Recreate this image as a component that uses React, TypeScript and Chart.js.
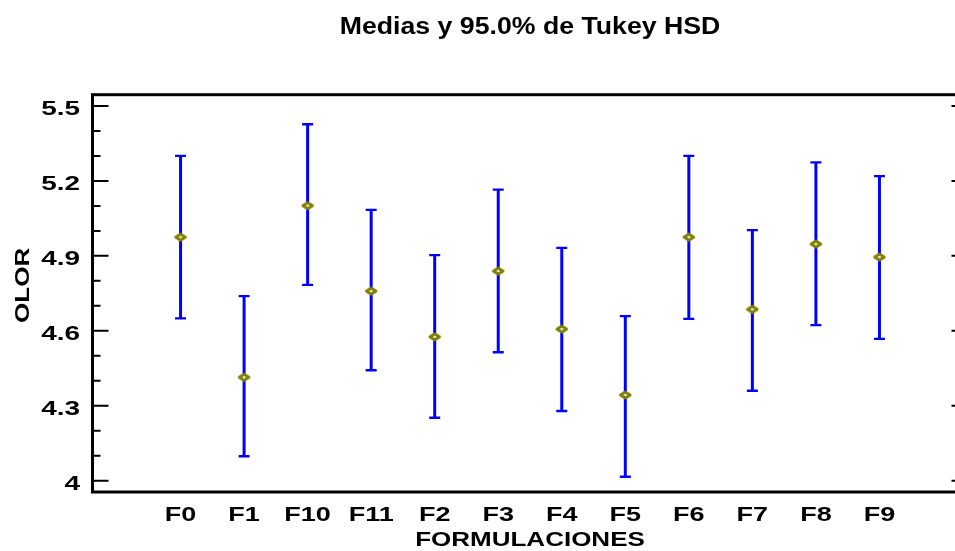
import React, { useEffect, useRef } from 'react';
import { Chart, registerables } from 'chart.js';

Chart.register(...registerables);

const categories = ['F0', 'F1', 'F10', 'F11', 'F2', 'F3', 'F4', 'F5', 'F6', 'F7', 'F8', 'F9'];
const means = [4.975, 4.414, 5.101, 4.759, 4.576, 4.839, 4.607, 4.343, 4.975, 4.686, 4.947, 4.895];
const lower = [4.650, 4.098, 4.784, 4.442, 4.252, 4.514, 4.279, 4.016, 4.648, 4.360, 4.623, 4.568];
const upper = [5.300, 4.739, 5.427, 5.084, 4.903, 5.165, 4.932, 4.659, 5.300, 5.003, 5.274, 5.219];
const yTicks = [4.0, 4.3, 4.6, 4.9, 5.2, 5.5];
const yTickLabels = ['4', '4.3', '4.6', '4.9', '5.2', '5.5'];

const FONT = "'Liberation Sans', Arial, sans-serif";

function makeDiamond(): HTMLCanvasElement {
  const c = document.createElement('canvas');
  c.width = 18;
  c.height = 14;
  const g = c.getContext('2d')!;
  g.beginPath();
  g.moveTo(9, 4);
  g.lineTo(13.8, 7);
  g.lineTo(9, 10);
  g.lineTo(4.2, 7);
  g.closePath();
  g.fillStyle = '#ffffff';
  g.fill();
  g.lineWidth = 3;
  g.lineJoin = 'round';
  g.strokeStyle = '#808000';
  g.stroke();
  return c;
}

// Draw a text element horizontally widened (the reference uses a stretched bold sans)
function stretch(obj: any, name: string, sx: number, dy: number) {
  const key = '__stretched_' + name;
  if (!obj || obj[key]) return;
  const orig = obj[name];
  obj[name] = function (...args: any[]) {
    const ctx = this.ctx;
    const protoFill = CanvasRenderingContext2D.prototype.fillText;
    ctx.save();
    ctx.translate(0, dy);
    (ctx as any).fillText = function (text: string, x: number, y: number) {
      this.save();
      this.translate(x, y);
      this.scale(sx, 1);
      protoFill.call(this, text, 0, 0);
      this.restore();
    };
    try {
      orig.apply(this, args);
    } finally {
      delete (ctx as any).fillText;
      ctx.restore();
    }
  };
  obj[key] = true;
}

const stretchPlugin = {
  id: 'stretchText',
  afterUpdate(chart: any) {
    stretch(chart.scales.x, 'drawLabels', 1.35, 0);
    stretch(chart.scales.x, 'drawTitle', 1.3, 0);
    stretch(chart.scales.y, 'drawLabels', 1.33, 0);
    stretch(chart.scales.y, 'drawTitle', 1.3, -8);
    stretch(chart.titleBlock, 'draw', 1.16, 0);
  },
};

const errorBarPlugin = {
  id: 'errorBars',
  beforeDatasetsDraw(chart: any) {
    const { ctx } = chart;
    const xs = chart.scales.x;
    const ys = chart.scales.y;
    ctx.save();
    ctx.strokeStyle = '#0000ff';
    for (let i = 0; i < categories.length; i++) {
      const x = xs.getPixelForValue(i);
      const yl = ys.getPixelForValue(lower[i]);
      const yu = ys.getPixelForValue(upper[i]);
      ctx.lineWidth = 3;
      ctx.beginPath();
      ctx.moveTo(x, yu);
      ctx.lineTo(x, yl);
      ctx.stroke();
      ctx.lineWidth = 2.4;
      ctx.beginPath();
      ctx.moveTo(x - 5.5, yu);
      ctx.lineTo(x + 5.5, yu);
      ctx.moveTo(x - 5.5, yl);
      ctx.lineTo(x + 5.5, yl);
      ctx.stroke();
    }
    ctx.restore();
  },
};

const framePlugin = {
  id: 'frame',
  afterDatasetsDraw(chart: any) {
    const { ctx, chartArea } = chart;
    const ys = chart.scales.y;
    const { left, right, top, bottom } = chartArea;
    ctx.save();
    ctx.strokeStyle = '#000000';
    ctx.lineWidth = 2;
    const majors = ys.ticks.map((t: any) => t.value);
    const minors: number[] = [];
    for (let i = 0; i < majors.length - 1; i++) {
      const step = (majors[i + 1] - majors[i]) / 3;
      minors.push(majors[i] + step, majors[i] + 2 * step);
    }
    ctx.beginPath();
    for (const v of majors) {
      const y = ys.getPixelForValue(v);
      ctx.moveTo(left, y);
      ctx.lineTo(left + 16, y);
      ctx.moveTo(right, y);
      ctx.lineTo(right - 16, y);
    }
    for (const v of minors) {
      const y = ys.getPixelForValue(v);
      ctx.moveTo(left, y);
      ctx.lineTo(left + 8, y);
      ctx.moveTo(right, y);
      ctx.lineTo(right - 8, y);
    }
    ctx.stroke();
    ctx.lineWidth = 3;
    ctx.strokeRect(left, top, right - left, bottom - top);
    ctx.restore();
  },
};

export default function App() {
  const ref = useRef<HTMLCanvasElement | null>(null);

  useEffect(() => {
    document.body.style.margin = '0';
    document.body.style.overflow = 'hidden';
    const canvas = ref.current;
    if (!canvas) return;
    const diamond = makeDiamond();
    const chart = new Chart(canvas, {
      type: 'scatter',
      data: {
        datasets: [
          {
            data: means.map((m, i) => ({ x: i, y: m })),
            pointStyle: diamond as any,
            pointRadius: 7,
            showLine: false,
          },
        ],
      },
      options: {
        responsive: false,
        animation: false,
        devicePixelRatio: 1,
        layout: { autoPadding: false, padding: { left: 0, right: 0.5, top: 0, bottom: 0 } },
        plugins: {
          legend: { display: false },
          tooltip: { enabled: false },
          title: {
            display: true,
            text: 'Medias y 95.0% de Tukey HSD',
            fullSize: false,
            color: '#000000',
            font: { family: FONT, weight: 'bold', size: 23, lineHeight: 1.2 },
            padding: { top: 14, bottom: 53.1 },
          },
        },
        scales: {
          x: {
            type: 'linear',
            min: -1.386,
            max: 12.386,
            grid: { display: false, drawTicks: false },
            border: { display: false },
            afterBuildTicks: (scale: any) => {
              scale.ticks = categories.map((_, i) => ({ value: i }));
            },
            afterFit: (scale: any) => {
              scale.height = 59;
            },
            ticks: {
              autoSkip: false,
              maxRotation: 0,
              minRotation: 0,
              padding: 11.5,
              color: '#000000',
              font: { family: FONT, weight: 'bold', size: 20, lineHeight: 1.2 },
              callback: (_v: any, idx: number) => categories[idx],
            },
            title: {
              display: true,
              text: 'FORMULACIONES',
              color: '#000000',
              font: { family: FONT, weight: 'bold', size: 20, lineHeight: 1 },
              padding: { top: 0, bottom: 1 },
            },
          },
          y: {
            type: 'linear',
            min: 3.955,
            max: 5.545,
            grid: { display: false, drawTicks: false },
            border: { display: false },
            afterBuildTicks: (scale: any) => {
              scale.ticks = yTicks.map((v) => ({ value: v }));
            },
            afterFit: (scale: any) => {
              scale.width = 92.5;
            },
            ticks: {
              padding: 12.5,
              labelOffset: 3,
              color: '#000000',
              font: { family: FONT, weight: 'bold', size: 21, lineHeight: 1.2 },
              callback: (_v: any, idx: number) => yTickLabels[idx],
            },
            title: {
              display: true,
              text: 'OLOR',
              color: '#000000',
              font: { family: FONT, weight: 'bold', size: 20, lineHeight: 1 },
              padding: { top: 13.5, bottom: 0 },
            },
          },
        },
      },
      plugins: [stretchPlugin, errorBarPlugin, framePlugin],
    });
    chart.draw();
    return () => chart.destroy();
  }, []);

  return (
    <div style={{ width: 955, height: 551, overflow: 'hidden', position: 'relative', background: '#ffffff' }}>
      <canvas ref={ref} width={968} height={551} style={{ display: 'block' }} />
    </div>
  );
}
